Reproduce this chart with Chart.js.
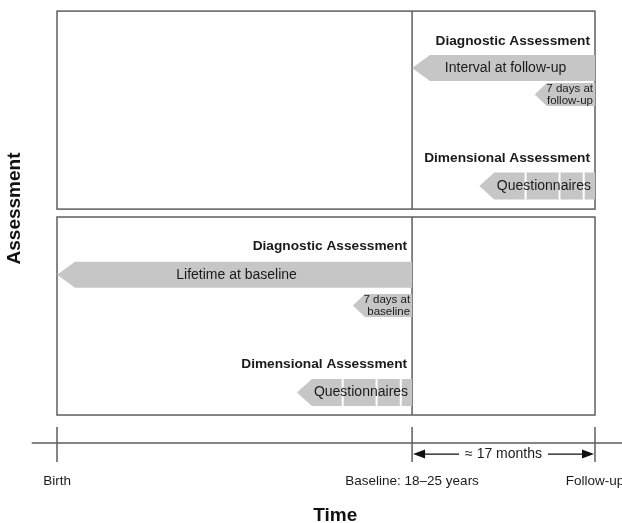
<!DOCTYPE html>
<html>
<head>
<meta charset="utf-8">
<script src="https://cdn.jsdelivr.net/npm/chart.js@4.4.1/dist/chart.umd.min.js"></script>
<style>
  html, body { margin: 0; padding: 0; background: #fff; }
  #wrap { width: 622px; height: 523px; }
</style>
</head>
<body>
<div id="wrap"><canvas id="studyChart"></canvas></div>
<script>
"use strict";

// time axis, schematic units (birth = 0, follow-up = 100)
const timePoints = [0, 66, 100];
const timeLabels = ['Birth', 'Baseline: 18–25 years', 'Follow-up'];
const spanLabel = '≈ 17 months';

// assessment waves: top panel = follow-up, bottom panel = baseline
const waves = ['Follow-up', 'Baseline'];
const waveBottom = [10.4, 0];

// section headings inside the panels
const headingText = ['Diagnostic Assessment', 'Dimensional Assessment', 'Diagnostic Assessment', 'Dimensional Assessment'];
const headingTime = [100, 100, 66, 66];
const headingRow = [18.9, 12.98, 8.54, 2.58];

// period covered by each assessment (arrows point back in time)
const arrowText = ['Interval at follow-up', '7 days at\nfollow-up', 'Questionnaires', 'Lifetime at baseline', '7 days at\nbaseline', 'Questionnaires'];
const arrowFrom = [66, 88.8, 78.5, 0, 55, 44.6];
const arrowTo = [100, 100, 100, 66, 66, 66];
const arrowRow = [17.53, 16.19, 11.57, 7.08, 5.53, 1.14];
const arrowKind = ['window', 'recent', 'scales', 'window', 'recent', 'scales'];

// questionnaire block boundaries, time units before the assessment
const scaleBreaks = [12.9, 6.6, 2.1];

// rows of the time line under the panels
const timelineStart = -4.7;
const timelineRow = -1.41;
const spanRow = -1.97;
const labelRow = -3.35;

const FONT = '"Liberation Sans", Arial, Helvetica, sans-serif';
const INK = '#1a1a1a';
const FRAME = '#5e5e5e';
const FILL = '#c6c6c6';

const kindStyle = {
    window: { h: 26, head: 18, size: 14 },
    recent: { h: 23, head: 12, size: 11.5 },
    scales: { h: 27, head: 15, size: 14 }
};

Chart.defaults.font.family = FONT;

const diagram = {
    id: 'diagram',
    afterDraw(chart) {
        const { ctx, chartArea, scales: { x, y } } = chart;
        const px = v => x.getPixelForValue(v);
        const py = v => y.getPixelForValue(v);

        ctx.save();

        // panels with the baseline divider
        ctx.strokeStyle = FRAME;
        ctx.lineWidth = 1.5;
        waves.forEach((w, i) => {
            const l = px(timePoints[0]), r = px(timePoints[2]);
            const t = py(waveBottom[i] + 10), b = py(waveBottom[i]);
            ctx.strokeRect(l, t, r - l, b - t);
            ctx.beginPath();
            ctx.moveTo(px(timePoints[1]), t);
            ctx.lineTo(px(timePoints[1]), b);
            ctx.stroke();
        });

        // arrows
        arrowText.forEach((txt, i) => {
            const st = kindStyle[arrowKind[i]];
            const x0 = px(arrowFrom[i]), x1 = px(arrowTo[i]), yc = py(arrowRow[i]);
            const top = yc - st.h / 2, bot = yc + st.h / 2;

            ctx.fillStyle = FILL;
            ctx.beginPath();
            ctx.moveTo(x0, yc);
            ctx.lineTo(x0 + st.head, top);
            ctx.lineTo(x1, top);
            ctx.lineTo(x1, bot);
            ctx.lineTo(x0 + st.head, bot);
            ctx.closePath();
            ctx.fill();

            if (arrowKind[i] === 'scales') {
                ctx.strokeStyle = '#fff';
                ctx.lineWidth = 2;
                scaleBreaks.forEach(b => {
                    const bx = px(arrowTo[i] - b);
                    ctx.beginPath();
                    ctx.moveTo(bx, top);
                    ctx.lineTo(bx, bot);
                    ctx.stroke();
                });
            }

            ctx.fillStyle = INK;
            ctx.font = st.size + 'px ' + FONT;
            ctx.textBaseline = 'middle';
            const lines = txt.split('\n');
            if (arrowKind[i] === 'window') {
                ctx.textAlign = 'center';
                ctx.fillText(txt, (x0 + x1) / 2 + 2, yc);
            } else if (lines.length > 1) {
                ctx.textAlign = 'right';
                ctx.fillText(lines[0], x1 - 2, yc - 6);
                ctx.fillText(lines[1], x1 - 2, yc + 6);
            } else {
                ctx.textAlign = 'right';
                ctx.fillText(txt, x1 - 4, yc);
            }
        });

        // headings
        ctx.fillStyle = INK;
        ctx.font = 'bold 13.7px ' + FONT;
        ctx.textAlign = 'right';
        ctx.textBaseline = 'middle';
        headingText.forEach((h, i) => {
            ctx.fillText(h, px(headingTime[i]) - 5, py(headingRow[i]));
        });

        // time line and its ticks
        const ty = py(timelineRow);
        ctx.strokeStyle = FRAME;
        ctx.lineWidth = 1.5;
        ctx.beginPath();
        ctx.moveTo(px(timelineStart), ty);
        ctx.lineTo(chartArea.right, ty);
        timePoints.forEach(t => {
            ctx.moveTo(px(t), ty - 16);
            ctx.lineTo(px(t), ty + 19);
        });
        ctx.stroke();

        // tick labels
        ctx.fillStyle = INK;
        ctx.font = '13.5px ' + FONT;
        ctx.textAlign = 'center';
        timeLabels.forEach((lab, i) => {
            ctx.fillText(lab, px(timePoints[i]), py(labelRow));
        });

        // interval between the waves
        ctx.font = '14px ' + FONT;
        const sx0 = px(timePoints[1]), sx1 = px(timePoints[2]), sy = py(spanRow);
        const mid = (sx0 + sx1) / 2;
        const half = ctx.measureText(spanLabel).width / 2 + 6;
        ctx.fillText(spanLabel, mid, sy);
        ctx.strokeStyle = '#111';
        ctx.lineWidth = 1.2;
        ctx.beginPath();
        ctx.moveTo(sx0 + 8, sy);
        ctx.lineTo(mid - half, sy);
        ctx.moveTo(mid + half, sy);
        ctx.lineTo(sx1 - 8, sy);
        ctx.stroke();
        ctx.fillStyle = '#111';
        ctx.beginPath();
        ctx.moveTo(sx0 + 1, sy);
        ctx.lineTo(sx0 + 13, sy - 4.5);
        ctx.lineTo(sx0 + 13, sy + 4.5);
        ctx.closePath();
        ctx.moveTo(sx1 - 1, sy);
        ctx.lineTo(sx1 - 13, sy - 4.5);
        ctx.lineTo(sx1 - 13, sy + 4.5);
        ctx.closePath();
        ctx.fill();

        ctx.restore();
    }
};

new Chart(document.getElementById('studyChart'), {
    type: 'scatter',
    data: { datasets: [] },
    options: {
        responsive: true,
        maintainAspectRatio: false,
        animation: false,
        layout: { padding: 0 },
        plugins: {
            legend: { display: false },
            tooltip: { enabled: false }
        },
        scales: {
            x: {
                type: 'linear',
                min: -1.6,
                max: 105.02,
                ticks: { display: false },
                grid: { display: false, drawTicks: false },
                border: { display: false },
                title: {
                    display: true,
                    text: 'Time',
                    color: '#111',
                    font: { size: 19, weight: 'bold', lineHeight: 0.8 },
                    padding: { top: 90.8, bottom: 0 }
                }
            },
            y: {
                type: 'linear',
                min: -0.10,
                max: 20.96,
                ticks: { display: false },
                grid: { display: false, drawTicks: false },
                border: { display: false },
                title: {
                    display: true,
                    text: 'Assessment',
                    color: '#111',
                    font: { size: 19, weight: 'bold', lineHeight: 1.2 },
                    padding: { top: 3.6, bottom: 22 }
                }
            }
        }
    },
    plugins: [diagram]
});
</script>
</body>
</html>
